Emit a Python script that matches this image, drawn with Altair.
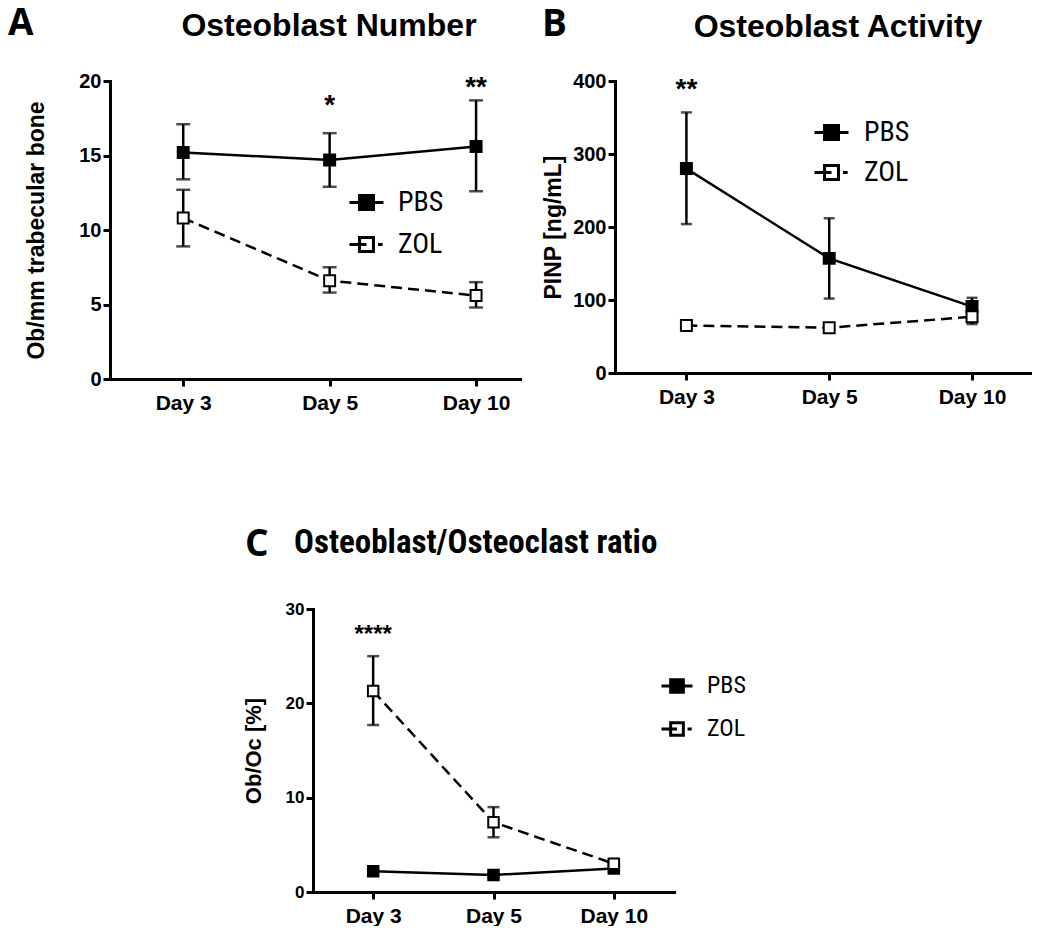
import altair as alt
import pandas as pd

days = ["Day 3", "Day 5", "Day 10"]
series = ["PBS", "ZOL"]
letters = ["A", "B", "C"]
titles = ["Osteoblast Number", "Osteoblast Activity", "Osteoblast/Osteoclast ratio"]
ytitles = ["Ob/mm trabecular bone", "PINP [ng/mL]", "Ob/Oc [%]"]

# Panel A
a_pbs_mean = [15.2, 14.7, 15.6]
a_pbs_lo = [13.4, 12.9, 12.6]
a_pbs_hi = [17.1, 16.5, 18.7]
a_zol_mean = [10.8, 6.6, 5.6]
a_zol_lo = [8.9, 5.8, 4.8]
a_zol_hi = [12.7, 7.5, 6.5]
a_star_idx = [1, 2]
a_star_txt = ["*", "**"]
a_star_y = [17.8, 19.0]

# Panel B
b_pbs_mean = [280, 157, 91]
b_pbs_lo = [204, 102, 80]
b_pbs_hi = [357, 212, 103]
b_zol_mean = [65, 62, 77]
b_zol_lo = [62, 59, 67]
b_zol_hi = [68, 65, 88]
b_star_idx = [0]
b_star_txt = ["**"]
b_star_y = [377]

# Panel C
c_pbs_mean = [2.2, 1.8, 2.5]
c_pbs_lo = [2.0, 1.6, 2.1]
c_pbs_hi = [2.4, 2.0, 2.9]
c_zol_mean = [21.3, 7.4, 3.0]
c_zol_lo = [17.7, 5.8, 2.6]
c_zol_hi = [25.0, 9.0, 3.4]
c_star_idx = [0]
c_star_txt = ["****"]
c_star_y = [26.5]

ARIAL = "Liberation Sans, Arial, sans-serif"
NARROW = "Liberation Sans Narrow, Arial Narrow, Roboto Condensed, Roboto, sans-serif"
LETTER = "Open Sans, Calibri, sans-serif"

PATH_PBS = "M-1,0H-0.41M0.41,0H1M-0.41,-0.41H0.41V0.41H-0.41Z"
PATH_ZOL = "M-1,0H-0.41M0.68,0H0.95M-0.41,-0.41H0.41V0.41H-0.41ZM-0.41,0H0"

label_expr = "[" + ",".join("'%s'" % d for d in days) + "][datum.value]"


def make_df(pm, pl, ph, zm, zl, zh):
    rows = []
    for s, m, lo, hi in [("PBS", pm, pl, ph), ("ZOL", zm, zl, zh)]:
        for i in range(len(days)):
            rows.append({"series": s, "idx": i, "mean": m[i], "lo": lo[i], "hi": hi[i]})
    return pd.DataFrame(rows)


def panel(df, stars, ymax, ystep, k, xdom, w, h, cap, psize, star_size,
          letter_pos, title_pos, title_font, title_size, title_align,
          leg_x, leg_y, leg_size, leg_font, leg_off, leg_pad,
          ylab_size, ytitle_size, ytitle_pad):
    xenc = alt.X("idx:Q", scale=alt.Scale(domain=xdom, nice=False, zero=False),
                 axis=alt.Axis(values=[0, 1, 2], labelExpr=label_expr, title=None, grid=False,
                               labelFont=ARIAL, labelFontWeight="bold", labelFontSize=21,
                               labelColor="black", labelPadding=6, tickSize=7, tickWidth=3,
                               tickColor="black", domainColor="black", domainWidth=3,
                               domainCap="square"))
    yscale = alt.Scale(domain=[0, ymax], nice=False)
    yaxis = alt.Axis(values=list(range(0, ymax + 1, ystep)), title=ytitles[k], grid=False,
                     titleFont=ARIAL, titleFontWeight="bold", titleFontSize=ytitle_size,
                     titleColor="black", titlePadding=ytitle_pad,
                     labelFont=ARIAL, labelFontWeight="bold", labelFontSize=ylab_size,
                     labelColor="black", labelPadding=2, tickSize=7, tickWidth=3,
                     tickColor="black", domainColor="black", domainWidth=3,
                     domainCap="square")
    base = alt.Chart(df)
    pbs = base.transform_filter(alt.datum.series == "PBS")
    zol = base.transform_filter(alt.datum.series == "ZOL")
    legend = alt.Legend(title=None, orient="none", legendX=leg_x, legendY=leg_y,
                        symbolSize=leg_size, symbolStrokeWidth=3,
                        labelFont=NARROW, labelFontSize=leg_font, labelColor="black",
                        labelOffset=leg_off, rowPadding=leg_pad, padding=0)

    line_pbs = pbs.mark_line(color="black", strokeWidth=2.5).encode(
        x=xenc, y=alt.Y("mean:Q", scale=yscale, axis=yaxis))
    line_zol = zol.mark_line(color="black", strokeWidth=2.5, strokeDash=[11, 6]).encode(
        x=xenc, y=alt.Y("mean:Q", scale=yscale))
    bars = base.mark_rule(color="black", strokeWidth=2.5).encode(
        x=xenc, y=alt.Y("lo:Q", scale=yscale), y2="hi:Q")
    cap_lo = base.mark_tick(color="black", thickness=2.5, size=cap, orient="horizontal").encode(
        x=xenc, y=alt.Y("lo:Q", scale=yscale))
    cap_hi = base.mark_tick(color="black", thickness=2.5, size=cap, orient="horizontal").encode(
        x=xenc, y=alt.Y("hi:Q", scale=yscale))
    pts_pbs = pbs.mark_point(shape="square", filled=True, size=psize, fill="black",
                             stroke="black", strokeWidth=2, opacity=1).encode(
        x=xenc, y=alt.Y("mean:Q", scale=yscale))
    pts_zol = zol.mark_point(shape="square", filled=True, size=psize, fill="white",
                             stroke="black", strokeWidth=2, opacity=1).encode(
        x=xenc, y=alt.Y("mean:Q", scale=yscale))
    leg = base.transform_filter("false").mark_point(filled=True, strokeWidth=3, opacity=1).encode(
        x=xenc, y=alt.Y("mean:Q", scale=yscale),
        fill=alt.Fill("series:N", scale=alt.Scale(domain=series, range=["black", "white"]),
                      legend=legend),
        stroke=alt.Stroke("series:N", scale=alt.Scale(domain=series, range=["black", "black"]),
                          legend=legend),
        shape=alt.Shape("series:N", scale=alt.Scale(domain=series, range=[PATH_PBS, PATH_ZOL]),
                        legend=legend))
    star = alt.Chart(stars).mark_text(font=ARIAL, fontWeight="bold", fontSize=star_size,
                                      baseline="alphabetic", align="center", color="black").encode(
        x=xenc, y=alt.Y("y:Q", scale=yscale), text="txt:N")
    lt = pd.DataFrame({"t": [letters[k]]})
    let = alt.Chart(lt).mark_text(font=LETTER, fontWeight="bold", fontSize=37, align="left",
                                  baseline="alphabetic", color="black").encode(
        x=alt.value(letter_pos[0]), y=alt.value(letter_pos[1]), text="t:N")
    tt = pd.DataFrame({"t": [titles[k]]})
    tit = alt.Chart(tt).mark_text(font=title_font, fontWeight="bold", fontSize=title_size,
                                  align=title_align, baseline="alphabetic", color="black").encode(
        x=alt.value(title_pos[0]), y=alt.value(title_pos[1]), text="t:N")
    return alt.layer(line_pbs, line_zol, bars, cap_lo, cap_hi, pts_pbs, pts_zol, leg,
                     star, let, tit).properties(width=w, height=h)


def stars_df(idx, txt, y):
    return pd.DataFrame({"idx": idx, "txt": txt, "y": y})


A = panel(make_df(a_pbs_mean, a_pbs_lo, a_pbs_hi, a_zol_mean, a_zol_lo, a_zol_hi),
          stars_df(a_star_idx, a_star_txt, a_star_y), 20, 5, 0, [-0.5, 2.3], 410, 298, 14, 120, 28,
          (-102, -46), (219, -45), ARIAL, 32, "center",
          238, 103, 1156, 28, 13, 9, 20, 23, 30)
B = panel(make_df(b_pbs_mean, b_pbs_lo, b_pbs_hi, b_zol_mean, b_zol_lo, b_zol_hi),
          stars_df(b_star_idx, b_star_txt, b_star_y), 400, 100, 1, [-0.5, 2.42], 417, 292, 11, 120, 28,
          (-73, -45), (223, -44), ARIAL, 32, "center",
          198, 33, 1156, 28, 14, 7, 20, 23, 7)
C = panel(make_df(c_pbs_mean, c_pbs_lo, c_pbs_hi, c_zol_mean, c_zol_lo, c_zol_hi),
          stars_df(c_star_idx, c_star_txt, c_star_y), 30, 10, 2, [-0.5, 2.5], 361, 283, 12, 110, 24,
          (-68, -53), (-19, -56), NARROW, 33, "left",
          347, 60, 961, 24, 13, 13, 17, 22, 20)

spacer = alt.Chart(pd.DataFrame({"v": [0]})).mark_point(opacity=0).encode(
    x=alt.value(0), y=alt.value(0)).properties(width=132, height=1)

top = alt.hconcat(A, B, spacing=22).resolve_scale(
    fill="independent", shape="independent", stroke="independent").resolve_legend(
    fill="independent", shape="independent", stroke="independent")
bottom = alt.hconcat(spacer, C, spacing=0).resolve_scale(
    fill="independent", shape="independent", stroke="independent").resolve_legend(
    fill="independent", shape="independent", stroke="independent")
chart = alt.vconcat(top, bottom, spacing=113, background="white",
                    padding={"top": -3, "left": 0, "right": 0, "bottom": 0}).resolve_scale(
    fill="independent", shape="independent", stroke="independent").resolve_legend(
    fill="independent", shape="independent", stroke="independent").configure_view(strokeWidth=0)

chart.save("out.html", embed_options={"renderer": "svg", "actions": False})
